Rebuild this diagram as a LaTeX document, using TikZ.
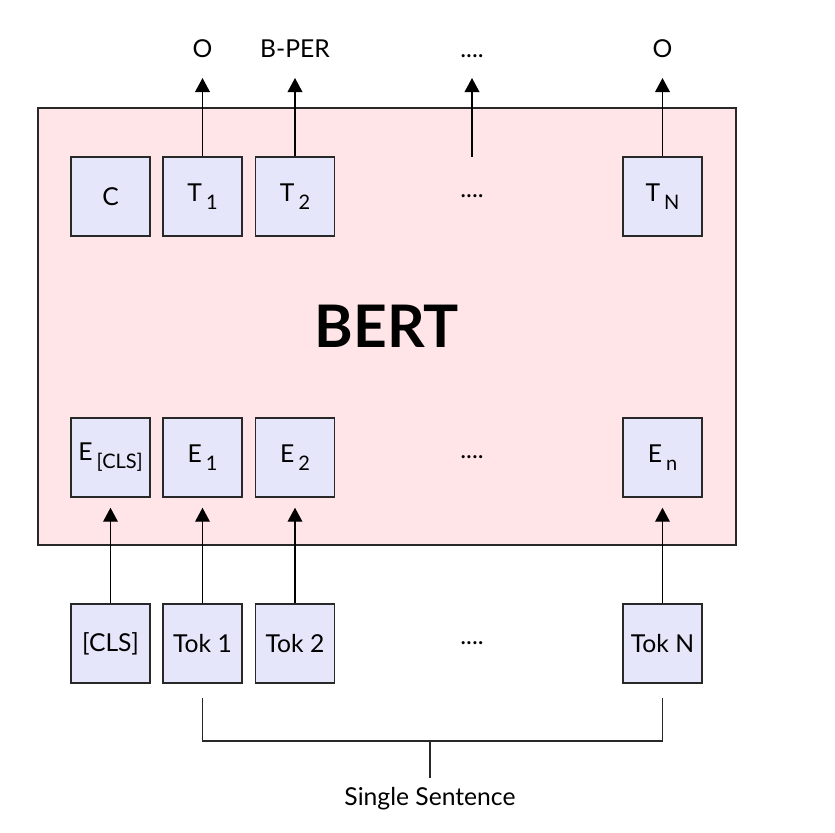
\documentclass[tikz,border=0pt]{standalone}
\usepackage{fontspec}
\setmainfont{Lato}
\usetikzlibrary{arrows.meta}
\definecolor{boxfill}{RGB}{230,230,250}
\definecolor{bertfill}{RGB}{255,228,232}
\definecolor{edge}{RGB}{40,40,40}
\newcommand{\subtxt}[1]{\,\raisebox{-0.65ex}{\fontsize{15}{15}\selectfont #1}}
\begin{document}
\begin{tikzpicture}[x=0.75pt,y=-0.75pt,
    font=\fontsize{18.5}{22}\selectfont,
    tokbox/.style={draw=edge,line width=1.1pt,fill=boxfill,minimum width=59.25pt,minimum height=59.25pt,inner sep=0pt},
    gapbox/.style={minimum width=59.25pt,minimum height=59.25pt,inner sep=0pt},
    tag/.style={inner sep=0pt,text depth=0pt,anchor=base},
    up/.style={line width=1.1pt,-{Triangle[width=11pt,length=10.5pt]}}]
    \useasboundingbox (0,0) rectangle (835,832);
    %% BERT block
    \node[draw=edge,line width=1.1pt,fill=bertfill,minimum width=523.5pt,minimum height=327.75pt,font=\fontsize{44}{50}\selectfont\bfseries] (bert) at (387,326.5) {BERT};
    %% Output row
    \node[tokbox] (C) at (110.5,196.5) {C};
    \node[tokbox] (T1) at (202.5,196.5) {T\subtxt{1}};
    \node[tokbox] (T2) at (295,196.5) {T\subtxt{2}};
    \node[gapbox] (Tdots) at (472,196.5) {....};
    \node[tokbox] (TN) at (662.5,196.5) {T\subtxt{N}};
    %% Embedding row
    \node[tokbox] (Ecls) at (110.5,457.5) {E\subtxt{[CLS]}};
    \node[tokbox] (E1) at (202.5,457.5) {E\subtxt{1}};
    \node[tokbox] (E2) at (295,457.5) {E\subtxt{2}};
    \node[gapbox] (Edots) at (472,457.5) {....};
    \node[tokbox] (En) at (662.5,457.5) {E\subtxt{n}};
    %% Input row
    \node[tokbox] (cls) at (110.5,643.5) {[CLS]};
    \node[tokbox] (tok1) at (202.5,643.5) {Tok 1};
    \node[tokbox] (tok2) at (295,643.5) {Tok 2};
    \node[gapbox] (tokdots) at (472,643.5) {....};
    \node[tokbox] (tokN) at (662.5,643.5) {Tok N};
    %% Labels
    \node[tag] (lab1) at (202.5,57) {O};
    \node[tag] (lab2) at (295,57) {B-PER};
    \node[tag] (lab3) at (472,57) {....};
    \node[tag] (labN) at (662.5,57) {O};
    \node[tag] (sent) at (430,805) {Single Sentence};
    %% Vectors
    \draw[up,shorten >=15.75pt] (T1.north) -- (lab1.base);
    \draw[up,shorten >=15.75pt] (T2.north) -- (lab2.base);
    \draw[up,shorten >=15.75pt] (Tdots.north) -- (lab3.base);
    \draw[up,shorten >=15.75pt] (TN.north) -- (labN.base);
    \draw[up,shorten >=7.5pt] (cls) -- (Ecls);
    \draw[up,shorten >=7.5pt] (tok1) -- (E1);
    \draw[up,shorten >=7.5pt] (tok2) -- (E2);
    \draw[up,shorten >=7.5pt] (tokN) -- (En);
    %% Bracket
    \coordinate (brc) at (430,741);
    \draw[edge,line width=1.1pt] ([yshift=-11pt]tok1.south) |- (brc) -| ([yshift=-11pt]tokN.south);
    \draw[edge,line width=1.1pt,shorten >=20pt] (brc) -- (sent.base);
\end{tikzpicture}
\end{document}
